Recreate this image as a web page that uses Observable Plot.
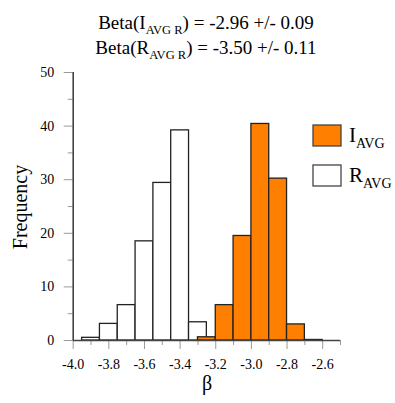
<!DOCTYPE html>
<html>
<head>
<meta charset="utf-8">
<script src="https://cdn.jsdelivr.net/npm/d3@7"></script>
<script src="https://cdn.jsdelivr.net/npm/@observablehq/plot@0.6"></script>
<style>
  html, body { margin: 0; padding: 0; background: white; }
</style>
</head>
<body>
<div id="chart"></div>
<script>
// Data
const binWidth = 0.1;
const rBinStarts = [-3.95, -3.85, -3.75, -3.65, -3.55, -3.45, -3.35];
const rCounts    = [0.5, 3.1, 6.6, 18.5, 29.4, 39.2, 3.4];
const iBinStarts = [-3.3, -3.2, -3.1, -3.0, -2.9, -2.8, -2.7];
const iCounts    = [0.6, 6.6, 19.5, 40.4, 30.2, 3.0, 0.1];
const xMajorTicks = [-4.0, -3.8, -3.6, -3.4, -3.2, -3.0, -2.8, -2.6];
const xMinorTicks = [-3.9, -3.7, -3.5, -3.3, -3.1, -2.9, -2.7, -2.5];
const yMajorTicks = [0, 10, 20, 30, 40, 50];
const yMinorTicks = [5, 15, 25, 35, 45];

const FONT = "'Liberation Serif', 'Times New Roman', serif";

const rData = rBinStarts.map((s, i) => ({x1: s, x2: s + binWidth, count: rCounts[i]}));
const iData = iBinStarts.map((s, i) => ({x1: s, x2: s + binWidth, count: iCounts[i]}));

const chart = Plot.plot({
  width: 395,
  height: 403,
  marginLeft: 72.7,
  marginRight: 55,
  marginTop: 72,
  marginBottom: 63,
  x: {domain: [-4, -2.5]},
  y: {domain: [0, 50]},
  style: {fontFamily: FONT, fontSize: "14px", color: "black", background: "white", overflow: "visible"},
  marks: [
    Plot.rect(rData, {x1: "x1", x2: "x2", y1: 0, y2: "count", fill: "white", stroke: "#222", strokeWidth: 1.3}),
    Plot.rect(iData, {x1: "x1", x2: "x2", y1: 0, y2: "count", fill: "#ff8000", stroke: "#222", strokeWidth: 1.3}),
    Plot.axisX({ticks: xMajorTicks, tickSize: 9, tickPadding: 10, tickFormat: d => d.toFixed(1), stroke: "#999", fill: "black", fontSize: 14, label: null}),
    Plot.axisX({ticks: xMinorTicks, tickSize: 5, text: null, stroke: "#999", label: null}),
    Plot.axisY({ticks: yMajorTicks, tickSize: 9, tickPadding: 10, tickFormat: d => String(d), stroke: "#999", fill: "black", fontSize: 14, label: null}),
    Plot.axisY({ticks: yMinorTicks, tickSize: 5, text: null, stroke: "#999", label: null}),
    Plot.ruleY([0], {stroke: "#444", strokeWidth: 1.6}),
    Plot.ruleX([-4], {stroke: "#444", strokeWidth: 1.6})
  ]
});

document.getElementById("chart").appendChild(chart);
const svg = d3.select(chart);

function subText(x, y, main, sub, rest, size, subSize, anchor) {
  const t = svg.append("text")
    .attr("x", x).attr("y", y)
    .attr("text-anchor", anchor)
    .attr("font-size", size)
    .attr("fill", "black");
  t.append("tspan").text(main);
  t.append("tspan").attr("font-size", subSize).attr("dy", subSize * 0.4).text(sub);
  if (rest) t.append("tspan").attr("dy", -subSize * 0.4).text(rest);
  return t;
}

// Title lines
subText(206, 29, "Beta(I", "AVG R", ") = -2.96 +/- 0.09", 19, 12.5, "middle");
subText(206, 54, "Beta(R", "AVG R", ") = -3.50 +/- 0.11", 19, 12.5, "middle");

// Axis labels
svg.append("text")
  .attr("transform", "translate(27,207) rotate(-90)")
  .attr("text-anchor", "middle")
  .attr("font-size", 20)
  .text("Frequency");
svg.append("text")
  .attr("x", 207).attr("y", 390)
  .attr("text-anchor", "middle")
  .attr("font-size", 20)
  .text("β");

// Legend
svg.append("rect").attr("x", 313).attr("y", 125).attr("width", 28).attr("height", 21)
  .attr("fill", "#ff8000").attr("stroke", "#444").attr("stroke-width", 1.3);
svg.append("rect").attr("x", 313).attr("y", 165).attr("width", 28).attr("height", 21)
  .attr("fill", "white").attr("stroke", "#444").attr("stroke-width", 1.3);
subText(349, 142, "I", "AVG", null, 21, 14, "start");
subText(349, 182, "R", "AVG", null, 21, 14, "start");

// Force the serif face on every text element
svg.selectAll("text, tspan").style("font-family", FONT);
</script>
</body>
</html>
